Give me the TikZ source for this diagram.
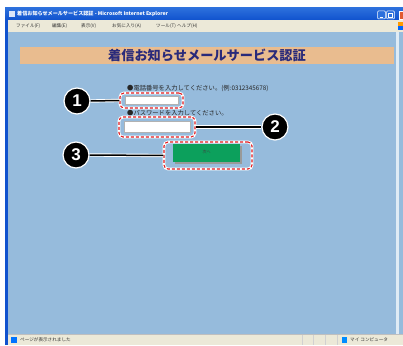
\documentclass[tikz,border=0pt]{standalone}
\usepackage{fontspec}
\setmainfont{Liberation Sans}
\newfontfamily\jp{Noto Sans CJK JP}
\definecolor{contentblue}{RGB}{150,187,220}
\definecolor{bandorange}{RGB}{233,188,143}
\definecolor{xpbeige}{RGB}{236,233,216}
\definecolor{xpblue}{RGB}{16,82,206}
\definecolor{xpbluetop}{RGB}{44,112,220}
\definecolor{navytext}{RGB}{42,42,122}
\definecolor{btngreen}{RGB}{12,160,92}
\definecolor{dashred}{RGB}{225,25,30}
\definecolor{closered}{RGB}{225,90,50}
\begin{document}
\begin{tikzpicture}[x=1pt,y=-1pt,
  callout/.style={circle,fill=black,draw=white,line width=1.2pt,minimum size=26pt,inner sep=0pt,
    text=white,font=\fontsize{17}{17}\selectfont\bfseries},
  redframe/.style={draw=dashred,line width=1.1pt,dash pattern=on 3pt off 2pt,rounded corners=4pt,
    preaction={draw=white,line width=2.8pt,solid}},
  leader/.style={draw=white,double=black,double distance=1.5pt,line width=0.9pt},
  menutext/.style={anchor=west,inner sep=0pt,text=black!80,font=\jp\fontsize{4.6}{5}\selectfont},
  labeltext/.style={anchor=west,inner sep=0pt,text=black!85,font=\jp\fontsize{6.3}{7}\selectfont},
  inputbox/.style={fill=white,draw=black!30,line width=0.4pt},
  winbtn/.style={fill=xpbluetop,draw=white,line width=0.5pt,rounded corners=1pt}]
\useasboundingbox (0,0) rectangle (403,345);
\fill[white] (0,0) rectangle (403,345);
% title bar
\shade[top color=xpbluetop,bottom color=xpblue] (5,8) rectangle (403,20);
\fill[white!85!xpblue] (9,11) rectangle (15,17);
\node[anchor=west,inner sep=0pt,text=white,font=\jp\bfseries\fontsize{5.1}{6}\selectfont] (title) at (17,14.2)
  {着信お知らせメールサービス認証 - Microsoft Internet Explorer};
\node[winbtn,minimum width=8pt,minimum height=8pt,inner sep=0pt] (bmin) at (381.5,15) {};
\draw[white,line width=0.8pt] ([xshift=-2pt,yshift=-2pt]bmin.center) -- ([xshift=1pt,yshift=-2pt]bmin.center);
\node[winbtn,minimum width=8pt,minimum height=8pt,inner sep=0pt] (bmax) at (390.5,15) {};
\draw[white,line width=0.6pt] ([xshift=-2pt,yshift=-2pt]bmax.center) rectangle ([xshift=2pt,yshift=2pt]bmax.center);
\fill[closered,draw=white,line width=0.5pt] (399,11) rectangle (404,19);
% menu bar
\fill[xpbeige] (5,20) rectangle (403,32);
\node[menutext] (m1) at (16,26) {ファイル(F)};
\node[menutext] (m2) at (52,26) {編集(E)};
\node[menutext] (m3) at (81,26) {表示(V)};
\node[menutext] (m4) at (112,26) {お気に入り(A)};
\node[menutext] (m5) at (156,26) {ツール(T)};
\node[menutext] (m6) at (177,26) {ヘルプ(H)};
\fill[orange!80!yellow] (398,22) rectangle (403,26);
\fill[blue!60!cyan] (398,26) rectangle (403,30);
\draw[black!25,line width=0.4pt] (5,32) -- (403,32);
% content
\fill[contentblue] (5,32.2) rectangle (403,334);
\fill[xpblue] (5,20) rectangle (8,345);
\fill[white!70!contentblue] (396,32.2) rectangle (399,334);
% header band
\fill[bandorange] (20,47) rectangle (394,64);
\node[text=navytext,font=\jp\bfseries\fontsize{13.2}{13}\selectfont,inner sep=0pt] (head) at (207,55.5)
  {着信お知らせメールサービス認証};
% labels
\node[labeltext] (lab1) at (127,88) {●電話番号を入力してください。(例:0312345678)};
\node[labeltext] (lab2) at (127,113) {●パスワードを入力してください。};
% inputs
\fill[inputbox] (125,96.5) rectangle (178,104.5);
\fill[inputbox] (124,121.5) rectangle (190,132.5);
\fill[black!40] (175,146) rectangle (242,164);
\fill[btngreen] (173,144) rectangle (240,162);
\node[inner sep=0pt,text=black!75,font=\jp\fontsize{4}{4}\selectfont] (next) at (206.5,151.5) {次へ};
% red dashed frames
\node[redframe,minimum width=63pt,minimum height=15pt,inner sep=0pt] (f1) at (151.5,100.5) {};
\node[redframe,minimum width=76pt,minimum height=20pt,inner sep=0pt] (f2) at (157,127) {};
\node[redframe,minimum width=88pt,minimum height=27pt,inner sep=0pt] (f3) at (208,155.5) {};
% callouts
\node[callout] (c1) at (77,101) {1};
\node[callout] (c2) at (275,127) {2};
\node[callout] (c3) at (76,155) {3};
\path[leader] (c1.east) -- (f1.west);
\path[leader] (f2.east) -- (c2.west);
\path[leader] (c3.east) -- (f3.west);
% status bar
\fill[xpbeige] (8,334) rectangle (403,345);
\draw[black!25,line width=0.4pt] (8,334) -- (403,334);
\fill[blue!55!cyan] (11,337) rectangle (17,343);
\node[menutext] (st1) at (20,340) {ページが表示されました};
\foreach \xx in {302,313,325,337} \draw[black!18,line width=0.5pt] (\xx,335) -- (\xx,345);
\fill[blue!45!cyan] (342,337) rectangle (347,343);
\node[menutext] (st2) at (350,340) {マイ コンピュータ};
\end{tikzpicture}
\end{document}
